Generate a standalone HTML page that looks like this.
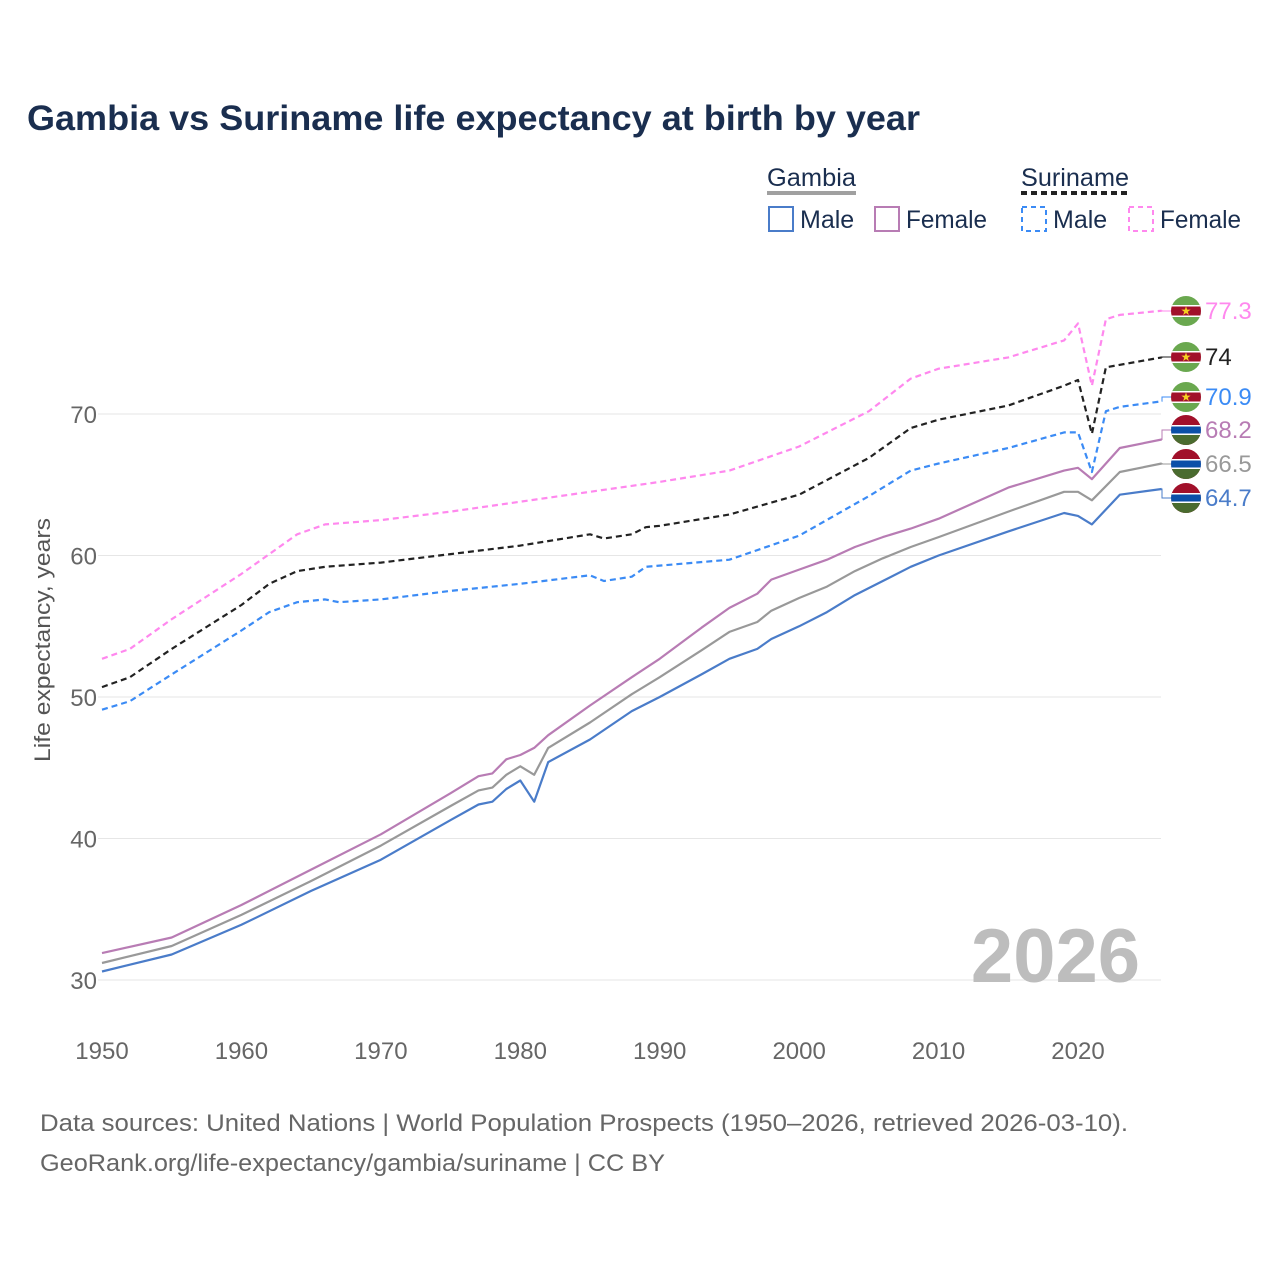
<!DOCTYPE html>
<html><head><meta charset="utf-8">
<style>
body{margin:0;background:#fff;font-family:"Liberation Sans",sans-serif;}
#wrap{position:relative;width:1280px;height:1280px;overflow:hidden;}
</style></head>
<body><div id="wrap">
<svg id="svg" width="1280" height="1280" xmlns="http://www.w3.org/2000/svg">
<text x="27" y="130" font-size="35" font-weight="bold" fill="#1a2e4f" textLength="893" lengthAdjust="spacingAndGlyphs">Gambia vs Suriname life expectancy at birth by year</text>
<g font-size="25" fill="#1a2e4f">
<text x="767" y="186" textLength="89" lengthAdjust="spacingAndGlyphs">Gambia</text>
<rect x="767" y="191" width="89" height="4" fill="#a0a0a0"/>
<rect x="769" y="207" width="24" height="24" fill="none" stroke="#4a7cc9" stroke-width="2"/>
<text x="800" y="228">Male</text>
<rect x="875" y="207" width="24" height="24" fill="none" stroke="#b87cb4" stroke-width="2"/>
<text x="906" y="228" textLength="81" lengthAdjust="spacingAndGlyphs">Female</text>
<text x="1021" y="186" textLength="108" lengthAdjust="spacingAndGlyphs">Suriname</text>
<line x1="1021" y1="193" x2="1129" y2="193" stroke="#222" stroke-width="4" stroke-dasharray="6,4"/>
<rect x="1022" y="207" width="24" height="24" fill="none" stroke="#3b8bf5" stroke-width="2" stroke-dasharray="5,4"/>
<text x="1053" y="228">Male</text>
<rect x="1129" y="207" width="24" height="24" fill="none" stroke="#ff88ee" stroke-width="2" stroke-dasharray="5,4"/>
<text x="1160" y="228" textLength="81" lengthAdjust="spacingAndGlyphs">Female</text>
</g>
<g id="grid"></g><g id="axes"></g>
<text x="1140" y="982" font-size="76" font-weight="bold" fill="#bdbdbd" text-anchor="end">2026</text>
<text transform="translate(50,640) rotate(-90)" font-size="22" fill="#555" text-anchor="middle" textLength="244" lengthAdjust="spacingAndGlyphs">Life expectancy, years</text>
<g id="series"></g><g id="ends"></g>
<text x="40" y="1131" font-size="24" fill="#666" textLength="1088" lengthAdjust="spacingAndGlyphs">Data sources: United Nations | World Population Prospects (1950–2026, retrieved 2026-03-10).</text>
<text x="40" y="1171" font-size="24" fill="#666" textLength="625" lengthAdjust="spacingAndGlyphs">GeoRank.org/life-expectancy/gambia/suriname | CC BY</text>
</svg></div>
<script>
const xTicks=[1950,1960,1970,1980,1990,2000,2010,2020];
const yTicks=[30,40,50,60,70];
const sfYears=[1950,1952,1955,1960,1964,1966,1970,1975,1980,1985,1990,1995,2000,2005,2008,2010,2015,2019,2020,2021,2022,2023,2026];
const sfVals=[52.7,53.4,55.5,58.7,61.5,62.2,62.5,63.1,63.8,64.5,65.2,66.0,67.7,70.2,72.5,73.2,74.0,75.2,76.4,72.0,76.7,77.0,77.3];
const stYears=[1950,1952,1955,1960,1962,1964,1966,1970,1975,1980,1985,1986,1988,1989,1990,1995,2000,2005,2008,2010,2015,2019,2020,2021,2022,2026];
const stVals=[50.7,51.4,53.4,56.5,58.0,58.9,59.2,59.5,60.1,60.7,61.5,61.2,61.5,62.0,62.1,62.9,64.3,66.9,69.0,69.6,70.6,72.0,72.4,68.6,73.3,74.0];
const smYears=[1950,1952,1955,1960,1962,1964,1966,1967,1970,1975,1980,1985,1986,1988,1989,1995,2000,2005,2008,2010,2015,2019,2020,2021,2022,2023,2026];
const smVals=[49.1,49.7,51.6,54.7,56.0,56.7,56.9,56.7,56.9,57.5,58.0,58.6,58.2,58.5,59.2,59.7,61.4,64.2,66.0,66.5,67.6,68.7,68.7,65.9,70.2,70.5,70.9];
const gYears=[1950,1955,1960,1965,1970,1975,1977,1978,1979,1980,1981,1982,1985,1988,1990,1993,1995,1997,1998,2000,2002,2004,2006,2008,2010,2015,2019,2020,2021,2023,2026];
const gfVals=[31.9,33.0,35.3,37.8,40.3,43.2,44.4,44.6,45.6,45.9,46.4,47.3,49.4,51.4,52.7,54.9,56.3,57.3,58.3,59.0,59.7,60.6,61.3,61.9,62.6,64.8,66.0,66.2,65.4,67.6,68.2];
const gtVals=[31.2,32.4,34.6,37.0,39.5,42.3,43.4,43.6,44.5,45.1,44.5,46.4,48.2,50.2,51.4,53.3,54.6,55.3,56.1,57.0,57.8,58.9,59.8,60.6,61.3,63.1,64.5,64.5,63.9,65.9,66.5];
const gmVals=[30.6,31.8,33.9,36.3,38.5,41.3,42.4,42.6,43.5,44.1,42.6,45.4,47.0,49.0,50.0,51.6,52.7,53.4,54.1,55.0,56.0,57.2,58.2,59.2,60.0,61.7,63.0,62.8,62.2,64.3,64.7];
const NS="http://www.w3.org/2000/svg";
const X=y=>102+(y-1950)*(976/70);
const Y=v=>980-(v-30)*14.15;
function mk(t,a,p){const e=document.createElementNS(NS,t);for(const k in a)e.setAttribute(k,a[k]);document.getElementById(p).appendChild(e);return e;}
yTicks.forEach(v=>{
 const l=mk('line',{x1:98,x2:1161,y1:Y(v),y2:Y(v),stroke:'#e6e6e6','stroke-width':1},'grid');
 
 
 const t=mk('text',{x:97,y:Y(v)+9,'font-size':24,fill:'#666','text-anchor':'end'},'axes');t.textContent=v;
 
 
});
xTicks.forEach(v=>{
 const t=mk('text',{x:X(v),y:1059,'font-size':24,fill:'#666','text-anchor':'middle'},'axes');t.textContent=v;
 
 
});
const series=[
 {n:'suriname-female',ys:sfYears,vs:sfVals,c:'#ff88ee',d:'6,4',fy:311,flag:'sr'},
 {n:'suriname-total',ys:stYears,vs:stVals,c:'#222',d:'6,4',fy:357,flag:'sr'},
 {n:'suriname-male',ys:smYears,vs:smVals,c:'#3b8bf5',d:'6,4',fy:397,flag:'sr'},
 {n:'gambia-female',ys:gYears,vs:gfVals,c:'#b87cb4',d:'',fy:430,flag:'gm'},
 {n:'gambia-total',ys:gYears,vs:gtVals,c:'#999',d:'',fy:464,flag:'gm'},
 {n:'gambia-male',ys:gYears,vs:gmVals,c:'#4a7cc9',d:'',fy:498,flag:'gm'}];
series.forEach(s=>{
 const pts=s.ys.map((y,i)=>X(y).toFixed(1)+','+Y(s.vs[i]).toFixed(1)).join(' ');
 const p=mk('polyline',{points:pts,fill:'none',stroke:s.c,'stroke-width':2.2,'stroke-dasharray':s.d,'stroke-linejoin':'round'},'series');
 
 
 const last=s.vs[s.vs.length-1], lx=X(s.ys[s.ys.length-1]), ly=Y(last);
 const c=mk('polyline',{points:`${lx},${ly} 1162,${ly} 1162,${s.fy} 1172,${s.fy}`,fill:'none',stroke:s.c,'stroke-width':1},'ends');
 
 
 const g=mk('g',{},'ends');
 
 
 const cx=1186,cy=s.fy,r=15;
 const id='clip-'+s.n;
 const cp=document.createElementNS(NS,'clipPath');cp.setAttribute('id',id);
 const cc=document.createElementNS(NS,'circle');cc.setAttribute('cx',cx);cc.setAttribute('cy',cy);cc.setAttribute('r',r);cp.appendChild(cc);g.appendChild(cp);
 const inner=document.createElementNS(NS,'g');inner.setAttribute('clip-path','url(#'+id+')');g.appendChild(inner);
 const R=(y,h,f)=>{const e=document.createElementNS(NS,'rect');e.setAttribute('x',cx-r);e.setAttribute('y',cy-r+y);e.setAttribute('width',2*r);e.setAttribute('height',h);e.setAttribute('fill',f);inner.appendChild(e);};
 if(s.flag==='sr'){R(0,30,'#6aa84f');R(9,12,'#fff');R(10.5,9,'#a1102a');
  const st=document.createElementNS(NS,'text');st.setAttribute('x',cx);st.setAttribute('y',cy+4);st.setAttribute('font-size',12);st.setAttribute('fill','#f5d020');st.setAttribute('text-anchor','middle');st.textContent='★';inner.appendChild(st);}
 else{R(0,30,'#a1102a');R(10,10,'#fff');R(11.5,7,'#0b4fa8');R(20,10,'#4a6b2f');}
 const t=mk('text',{x:1205,y:s.fy+8,'font-size':24,fill:s.c},'ends');t.textContent=last;
 
 
});
</script>
</body></html>
